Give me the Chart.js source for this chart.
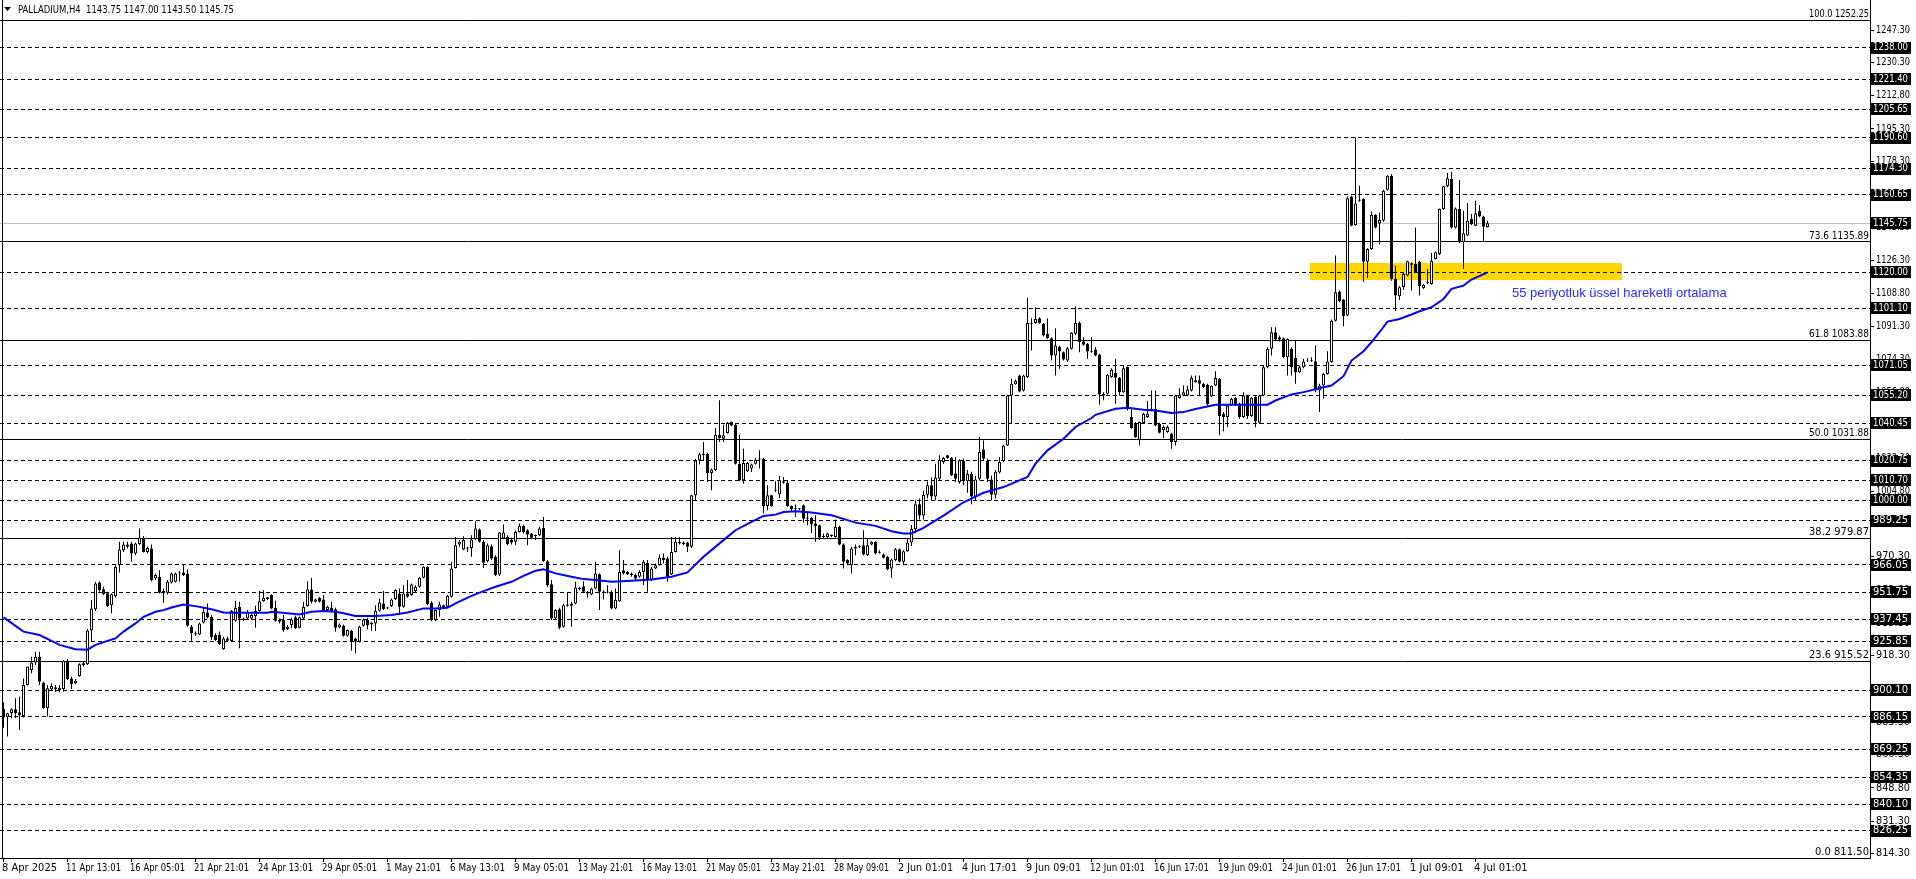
<!DOCTYPE html>
<html><head><meta charset="utf-8">
<script src="https://cdn.jsdelivr.net/npm/chart.js@4.4.0/dist/chart.umd.min.js"></script>
<style>html,body{margin:0;padding:0;background:#fff;overflow:hidden}#wrap{position:relative;width:1916px;height:879px}</style>
</head><body><div id="wrap"><canvas id="c" width="1916" height="879"></canvas></div>
<script>
const headerText = 'PALLADIUM,H4  1143.75 1147.00 1143.50 1145.75';
const annotationText = '55 periyotluk üssel hareketli ortalama';

const opens = [890.3,886.0,888.2,890.2,888.6,886.6,902.9,910.8,914.7,917.8,904.2,890.7,900.7,900.7,900.3,900.8,915.7,906.4,903.8,907.7,913.4,913.8,931.6,942.8,956.8,953.3,951.2,944.9,949.7,966.0,973.8,975.6,977.3,972.1,977.0,980.5,972.9,974.7,958.9,959.8,952.3,951.4,956.8,957.2,961.6,962.1,961.6,933.6,930.1,929.5,935.8,941.1,938.8,929.2,929.5,921.8,926.2,926.1,936.7,944.1,937.9,937.9,937.9,939.2,941.8,947.0,948.1,950.2,943.5,937.1,937.1,932.4,934.5,938.5,933.0,
937.9,944.4,953.2,946.7,948.8,947.9,942.3,943.5,942.8,933.2,934.1,928.8,931.5,927.4,925.7,934.1,937.4,934.8,935.3,942.0,945.8,943.2,944.4,948.1,951.1,944.1,951.1,950.2,952.3,954.6,959.3,965.1,946.3,937.1,942.3,944.9,944.1,949.3,964.5,976.8,974.2,974.7,975.0,979.6,984.7,978.2,968.0,975.9,970.3,961.0,979.9,980.8,979.4,978.2,983.4,986.6,984.3,982.6,981.7,981.7,985.5,968.0,955.9,937.9,942.8,933.6,944.6,944.6,945.8,953.3,954.9,951.9,950.5,953.7,961.2,951.9,951.6,
951.9,943.2,947.0,963.3,962.4,961.6,960.7,959.8,962.4,967.2,958.1,964.2,965.9,969.8,969.4,961.0,972.9,977.3,977.8,977.8,975.6,1002.7,1021.0,1023.7,1024.5,1014.4,1015.8,1034.5,1032.4,1035.4,1041.2,1039.8,1019.3,1010.6,1015.3,1016.7,1019.3,1021.9,1021.9,997.1,1002.7,1005.0,1003.2,1009.2,1009.3,997.1,995.3,995.7,997.4,990.8,990.8,987.8,986.9,981.3,980.8,981.7,980.8,986.1,976.8,968.6,965.9,974.7,975.6,976.4,971.2,976.8,978.2,972.9,971.5,970.3,964.2,968.6,974.3,967.7,973.3,
977.8,985.0,998.0,992.0,1003.0,1008.0,1002.0,1011.4,1020.2,1023.7,1022.3,1014.1,1009.7,1021.0,1010.0,1014.0,1002.0,1011.4,1026.8,1020.7,1011.0,1003.0,1014.6,1020.7,1028.9,1055.2,1061.1,1065.7,1057.8,1064.8,1092.8,1093.3,1095.8,1092.8,1087.6,1085.3,1076.2,1080.6,1077.9,1073.6,1079.7,1087.6,1093.2,1083.5,1082.3,1078.3,1079.3,1076.7,1056.1,1056.1,1064.8,1067.1,1064.5,1056.9,1070.1,1043.8,1040.3,1031.9,1040.7,1043.8,1047.3,1048.2,1040.3,1036.8,1035.9,1035.1,1030.7,1053.8,1055.2,1055.2,1057.8,1062.2,1063.1,1061.3,1060.8,
1054.6,1060.4,1063.9,1045.5,1043.8,1049.9,1053.8,1050.8,1043.8,1055.2,1044.3,1054.3,1040.8,1055.2,1070.0,1079.7,1088.4,1085.8,1085.3,1075.3,1079.7,1075.0,1067.4,1070.0,1073.0,1073.5,1073.2,1057.8,1060.4,1066.5,1072.7,1094.5,1109.8,1105.6,1097.2,1159.8,1144.8,1157.5,1158.4,1125.5,1132.2,1150.0,1145.6,1147.1,1163.3,1170.7,1116.4,1107.3,1112.0,1118.2,1123.9,1124.3,1125.5,1111.5,1114.2,1113.8,1126.9,1129.5,1153.2,1165.1,1168.9,1143.5,1153.2,1135.7,1139.2,1147.9,1144.4,1152.3,1149.3,1143.75];
const highs = [893.8,888.4,890.7,895.9,896.8,906.4,912.6,917.8,920.4,920.4,904.7,902.9,903.8,902.9,902.9,916.1,916.6,907.3,906.1,914.3,915.2,932.3,947.6,957.2,957.5,954.6,951.9,951.1,965.9,978.2,978.2,978.2,978.2,977.8,985.2,981.3,975.6,976.8,961.6,963.3,953.7,958.1,962.1,962.1,962.8,966.3,963.8,934.5,931.0,935.8,944.1,945.8,939.7,930.1,931.0,928.3,928.3,942.3,947.2,946.7,938.3,942.3,940.6,944.6,952.3,952.8,949.3,950.6,947.2,937.9,939.7,934.5,938.3,939.4,939.0,
946.7,957.5,959.3,948.4,949.3,950.2,944.6,946.7,943.5,935.3,934.8,932.3,931.8,927.8,934.1,937.9,938.3,936.2,944.9,948.4,952.3,944.1,948.4,953.3,953.7,955.4,958.1,956.3,955.4,959.8,965.4,965.4,947.0,942.8,946.7,945.3,950.2,967.7,980.8,979.1,981.2,975.6,981.7,989.0,985.2,979.1,977.3,976.8,971.2,983.4,987.3,981.7,980.3,984.1,987.8,987.3,984.8,982.9,982.0,986.1,991.3,968.6,958.1,942.8,943.5,945.8,951.6,946.7,957.2,954.6,957.5,952.3,954.0,967.7,961.6,952.8,955.4,
952.8,953.7,973.8,968.6,962.8,962.1,961.6,963.3,968.6,968.6,965.1,966.8,971.5,972.1,970.3,980.8,980.8,980.8,978.5,978.2,1003.0,1021.9,1025.1,1030.7,1025.1,1016.7,1038.0,1052.6,1039.8,1041.2,1041.5,1040.3,1034.5,1027.2,1020.2,1019.3,1022.3,1026.3,1022.3,1007.9,1003.0,1010.0,1012.8,1012.3,1010.6,997.4,997.8,996.0,997.8,993.9,991.3,992.2,987.3,982.6,983.1,982.0,989.9,986.6,977.3,969.1,975.6,976.8,976.4,984.3,979.9,978.5,978.5,973.8,972.1,970.8,969.4,975.0,974.7,973.8,979.9,
987.0,1000.0,1001.0,1005.0,1010.0,1012.0,1019.3,1023.7,1022.8,1024.0,1022.8,1022.8,1021.6,1022.0,1016.0,1015.0,1013.0,1033.3,1031.5,1021.9,1013.0,1016.0,1022.8,1029.3,1055.5,1063.9,1063.6,1066.0,1066.0,1106.5,1095.8,1101.6,1096.3,1093.3,1095.8,1085.8,1090.5,1081.4,1078.3,1080.6,1088.4,1102.1,1094.0,1085.8,1082.8,1085.8,1080.6,1077.1,1056.9,1066.5,1069.5,1074.4,1064.8,1070.9,1070.4,1048.2,1041.2,1041.5,1046.1,1052.2,1057.8,1057.8,1040.8,1039.4,1039.4,1035.6,1055.5,1059.0,1060.4,1060.4,1065.7,1065.7,1065.7,1061.8,1061.3,
1060.4,1067.9,1064.3,1046.4,1050.3,1053.9,1054.3,1051.3,1056.9,1055.5,1054.3,1054.8,1055.5,1070.6,1080.5,1091.0,1091.0,1086.7,1085.8,1085.3,1080.5,1084.0,1070.9,1074.4,1074.8,1075.3,1081.4,1061.3,1067.1,1078.4,1095.1,1128.7,1110.3,1105.9,1159.8,1160.2,1190.8,1165.4,1158.8,1132.5,1151.9,1150.5,1151.4,1163.3,1171.0,1171.5,1123.4,1112.6,1119.6,1126.0,1125.2,1143.5,1126.0,1113.8,1121.7,1130.1,1130.8,1153.5,1165.4,1172.1,1172.8,1154.0,1168.4,1152.3,1156.3,1150.5,1157.5,1155.3,1149.6,1147.00];
const lows = [880.5,875.8,885.4,885.4,879.3,885.8,902.6,909.1,913.4,902.9,890.4,886.3,900.3,899.4,899.1,899.4,905.6,900.8,903.3,907.3,912.6,913.4,926.1,941.8,951.9,950.2,944.1,940.6,948.8,962.1,972.9,974.7,967.7,971.2,976.4,972.6,972.1,957.5,958.1,951.1,946.2,950.5,956.3,956.8,957.2,960.3,933.6,926.2,928.8,929.2,935.3,937.9,926.6,926.1,924.0,921.3,925.7,925.7,936.2,922.2,936.6,937.6,937.1,933.0,941.4,946.7,947.6,942.8,936.2,935.3,930.9,931.8,932.7,932.4,932.7,
937.1,944.1,945.8,946.3,946.3,941.8,941.8,941.1,930.9,932.7,928.3,928.3,921.0,919.6,925.3,933.6,932.3,931.3,931.3,941.4,942.3,942.7,943.9,947.6,939.7,943.5,948.8,949.8,951.6,954.0,958.9,944.9,936.5,936.5,938.8,942.8,943.5,948.8,964.2,975.6,973.8,972.9,970.3,979.1,977.8,964.5,967.3,968.6,960.3,960.3,979.6,976.4,976.8,976.4,983.1,982.6,976.4,979.9,979.1,981.3,967.7,954.6,937.1,937.1,932.3,933.0,944.1,933.6,945.3,952.8,951.6,948.8,950.2,953.3,942.3,947.9,951.1,
942.8,942.8,946.7,961.0,960.7,959.8,958.1,959.3,955.4,951.9,957.5,963.8,965.6,966.8,957.2,960.7,972.6,976.8,976.4,972.9,975.0,1000.1,1018.8,1021.0,1009.7,1005.3,1015.3,1030.7,1030.7,1035.1,1039.1,1018.8,1010.0,1008.8,1014.9,1014.9,1018.8,1016.7,993.1,994.8,996.6,1004.4,1001.3,1008.8,996.6,994.3,991.3,994.8,988.2,986.9,982.9,978.2,979.1,979.9,980.3,980.8,980.3,976.4,964.2,965.9,961.6,971.2,975.0,971.2,970.8,976.4,971.5,972.1,969.4,963.3,959.3,968.0,967.3,965.9,972.9,
976.0,983.0,990.0,990.0,1001.0,1000.0,1000.0,1010.6,1019.3,1021.9,1012.8,1009.7,1008.8,1008.0,1004.0,998.0,1000.0,1010.6,1021.0,1009.7,1000.0,1001.0,1014.1,1020.2,1028.6,1040.7,1060.8,1056.9,1057.3,1064.3,1078.8,1092.8,1092.8,1086.2,1084.9,1073.6,1065.7,1069.2,1073.6,1072.7,1079.3,1087.0,1077.9,1081.4,1074.4,1077.6,1075.8,1050.3,1052.6,1055.5,1064.3,1050.8,1055.2,1056.6,1047.3,1037.7,1032.8,1028.9,1040.3,1043.3,1046.8,1039.1,1035.1,1032.8,1035.6,1027.2,1028.9,1053.4,1054.8,1054.8,1057.3,1061.8,1055.2,1059.1,1049.9,
1054.3,1060.1,1034.2,1036.3,1038.5,1049.6,1049.9,1042.9,1043.3,1042.9,1043.8,1038.5,1040.3,1054.8,1069.5,1076.2,1084.0,1083.5,1074.8,1065.7,1065.7,1061.3,1067.0,1069.5,1072.7,1072.7,1056.9,1046.4,1053.4,1066.0,1072.3,1094.0,1104.2,1091.6,1096.8,1144.1,1144.4,1157.0,1115.0,1116.9,1131.8,1143.0,1134.5,1146.5,1162.8,1115.5,1099.5,1105.4,1110.6,1117.8,1110.3,1119.6,1107.7,1111.2,1113.8,1113.3,1126.6,1129.0,1152.8,1164.6,1143.0,1143.0,1135.3,1121.7,1138.8,1144.8,1144.1,1148.8,1135.7,1143.50];
const closes = [885.8,888.1,890.2,888.1,887.0,902.9,912.6,914.7,917.8,904.7,890.7,901.2,902.4,901.7,901.5,915.7,905.9,903.3,905.2,913.8,914.3,931.6,943.2,956.3,952.8,950.7,944.4,950.7,965.1,974.2,976.8,976.8,972.1,977.3,980.5,972.9,975.0,958.1,960.7,951.4,951.1,957.2,961.6,961.6,962.1,960.7,934.1,930.1,929.5,935.3,941.4,938.5,927.9,926.6,924.5,927.4,927.4,941.8,943.5,937.9,937.1,941.4,939.7,941.8,947.0,948.8,949.0,943.2,936.7,936.2,931.8,933.6,937.4,932.7,938.6,
944.1,953.3,946.7,947.9,946.7,942.3,944.1,941.4,933.0,934.8,928.8,931.8,926.0,925.7,933.6,937.4,934.4,935.7,942.0,946.3,942.8,943.5,947.9,952.9,944.1,951.1,949.3,955.8,954.6,959.3,965.1,945.5,937.1,942.3,945.3,943.2,949.8,964.2,976.4,978.2,979.1,975.2,979.4,985.2,978.2,967.2,976.4,969.4,960.7,983.1,983.1,977.0,977.8,983.4,986.6,983.4,982.0,980.3,981.3,985.2,968.0,955.4,937.9,942.3,933.0,944.9,945.3,945.8,954.2,954.0,951.9,951.1,953.7,961.6,951.9,951.6,951.9,
943.2,947.6,962.4,961.6,961.0,960.7,958.9,962.4,967.7,958.1,964.2,965.9,969.8,968.6,959.8,972.9,978.2,978.2,977.1,975.6,1002.7,1021.0,1024.2,1024.5,1014.4,1016.2,1034.5,1032.8,1034.2,1040.7,1039.4,1019.3,1010.6,1019.6,1019.6,1018.8,1021.4,1021.5,997.1,1002.7,997.1,1005.3,1010.6,1010.0,996.9,995.3,995.7,995.3,990.4,990.4,987.5,986.4,980.3,980.8,982.6,981.3,986.1,976.8,967.7,966.8,974.7,975.6,975.7,971.5,976.4,978.2,972.1,972.4,969.8,963.8,968.9,974.3,967.7,973.3,977.8,
985.0,998.0,992.0,1003.0,1008.0,1002.0,1012.0,1021.1,1022.3,1022.3,1013.2,1011.4,1021.1,1010.0,1014.0,1002.0,1011.0,1025.4,1021.9,1011.4,1003.0,1015.0,1020.2,1028.9,1055.2,1061.3,1062.9,1057.3,1065.7,1093.2,1093.2,1095.4,1093.2,1086.7,1085.3,1076.2,1081.4,1078.3,1074.1,1080.0,1088.1,1093.2,1083.2,1081.8,1078.3,1077.9,1076.2,1055.7,1055.2,1066.0,1068.7,1064.5,1056.9,1069.5,1048.2,1038.0,1033.3,1041.2,1045.6,1045.6,1048.2,1039.4,1035.6,1038.6,1038.6,1030.7,1055.2,1055.5,1056.9,1058.3,1064.5,1063.1,1061.3,1059.6,1050.5,
1060.1,1064.3,1044.3,1043.8,1049.9,1053.4,1050.3,1043.8,1055.2,1044.3,1053.9,1041.5,1055.2,1070.0,1079.7,1088.4,1084.6,1084.6,1075.3,1084.9,1070.0,1067.4,1070.0,1073.0,1073.5,1073.2,1057.8,1060.4,1066.5,1073.0,1094.5,1109.4,1104.7,1096.8,1158.8,1144.4,1156.1,1158.1,1125.5,1132.2,1150.0,1143.5,1147.4,1162.8,1170.7,1116.4,1107.7,1112.0,1119.0,1125.7,1124.7,1119.9,1112.6,1113.3,1114.7,1126.0,1130.4,1153.2,1165.1,1169.3,1143.5,1153.5,1135.7,1140.4,1147.0,1145.3,1150.9,1149.3,1143.9,1145.75];

const emaBars = [0,5,9,12,14,18,21,23,26,28,30,33,35,38,40,42,45,48,52,55,57,66,67,71,74,77,80,83,85,88,93,97,101,105,108,111,113,117,120,123,127,130,133,135,138,142,145,148,152,157,162,167,171,175,180,183,187,190,193,195,198,202,207,211,213,218,222,225,227,230,235,240,245,250,256,258,261,265,268,272,273,278,281,285,288,292,295,298,303,316,318,322,325,330,332,335,337,340,342,344,346,349,352,354,357,360,362,365,367,371];
const emaValues = [938.5,931.0,929.2,926.1,924.0,921.7,921.5,924.0,926.1,927.4,931.0,935.3,938.8,941.4,942.3,943.7,945.3,944.4,942.8,941.1,940.9,940.9,941.4,940.6,940.0,941.4,941.8,941.4,940.6,939.2,939.2,939.7,941.1,943.2,943.2,943.5,945.8,949.8,952.3,954.6,957.2,960.3,963.0,963.8,961.6,959.8,958.6,958.1,957.2,957.7,958.4,959.8,962.1,970.3,979.1,984.3,988.7,991.8,992.5,993.9,994.3,993.6,992.2,989.6,988.3,986.6,983.8,982.6,982.6,985.5,992.0,999.0,1004.0,1007.0,1012.3,1019.3,1026.3,1032.4,1038.6,1043.3,1045.0,1048.2,1048.7,1047.7,1047.3,1045.9,1046.4,1048.0,1050.3,1050.3,1052.5,1055.7,1056.9,1059.5,1060.4,1065.3,1073.5,1078.4,1083.2,1088.4,1094.0,1095.4,1097.7,1099.4,1101.5,1105.9,1111.2,1112.9,1116.1,1119.9];

const timeLabelBars = [0,16,32,48,64,80,96,112,128,144,160,176,192,208,224,240,256,272,288,304,320,336,352,368];
const timeLabelTexts = ['8 Apr 2025','11 Apr 13:01','16 Apr 05:01','21 Apr 21:01','24 Apr 13:01','29 Apr 05:01','1 May 21:01','6 May 13:01','9 May 05:01','13 May 21:01','16 May 13:01','21 May 05:01','23 May 21:01','28 May 09:01','2 Jun 01:01','4 Jun 17:01','9 Jun 09:01','12 Jun 01:01','16 Jun 17:01','19 Jun 09:01','24 Jun 01:01','26 Jun 17:01','1 Jul 09:01','4 Jul 01:01'];

const priceTicks = [1247.30,1230.30,1212.80,1195.30,1178.30,1160.80,1143.30,1126.30,1108.80,1091.30,1074.30,1056.80,1039.30,1022.30,1004.80,987.30,970.30,952.80,935.30,918.30,900.80,883.30,866.30,848.80,831.30,814.30];
const levelPrices = [1238.00,1221.40,1205.65,1190.60,1174.30,1160.65,1120.00,1101.10,1071.05,1055.20,1040.45,1020.75,1010.70,1000.00,989.25,966.05,951.75,937.45,925.85,900.10,886.15,869.25,854.35,840.10,826.25];
const fibRatios = ['100.0','73.6','61.8','50.0','38.2','23.6','0.0'];
const fibPrices = [1252.25,1135.89,1083.88,1031.88,979.87,915.52,811.50];
const bidPrice = 1145.75;
const zoneTop = 1124.9, zoneBottom = 1116.0, zoneStartBar = 327, zoneEndBar = 404;
const totalSlots = 467;

const labels = Array.from({length: totalSlots}, (_, i) => String(i));
const n = opens.length;
const bodies = labels.map((_, i) => i < n ? [opens[i], closes[i]] : null);
const wicks = labels.map((_, i) => i < n ? [lows[i], highs[i]] : null);
const bodyColors = labels.map((_, i) => i < n && closes[i] >= opens[i] ? '#ffffff' : '#000000');
const emaSeries = labels.map(() => null);
emaBars.forEach((b, k) => { emaSeries[b] = emaValues[k]; });

const AXIS_X = 1870, AXIS_Y = 858;
const FONT = '10px "DejaVu Sans", "Liberation Sans", sans-serif';
const px = v => Math.floor(v) + 0.5;

const mt4 = {
  id: 'mt4',
  beforeDatasetsDraw(chart) {
    const {ctx, scales: {x, y}} = chart;
    ctx.save();
    ctx.fillStyle = '#FFD700';
    const zx0 = Math.round(x.getPixelForValue(zoneStartBar) - 2);
    const zx1 = Math.round(x.getPixelForValue(zoneEndBar) + 2);
    const zy0 = Math.round(y.getPixelForValue(zoneTop)), zy1 = Math.round(y.getPixelForValue(zoneBottom));
    ctx.fillRect(zx0, zy0, zx1 - zx0, zy1 - zy0);
    ctx.lineWidth = 1;
    ctx.strokeStyle = '#c0c0c0';
    let yy = px(y.getPixelForValue(bidPrice));
    ctx.beginPath(); ctx.moveTo(0, yy); ctx.lineTo(AXIS_X, yy); ctx.stroke();
    ctx.strokeStyle = '#000';
    fibPrices.forEach(p => {
      const t = Math.min(px(y.getPixelForValue(p)), AXIS_Y + 0.5);
      ctx.beginPath(); ctx.moveTo(0, t); ctx.lineTo(AXIS_X, t); ctx.stroke();
    });
    ctx.setLineDash([4, 3]);
    levelPrices.forEach(p => {
      const t = px(y.getPixelForValue(p));
      ctx.beginPath(); ctx.moveTo(0, t); ctx.lineTo(AXIS_X, t); ctx.stroke();
    });
    ctx.restore();
  },
  afterDatasetsDraw(chart) {
    const {ctx, scales: {x, y}} = chart;
    ctx.save();
    ctx.fillStyle = '#fff';
    ctx.fillRect(AXIS_X + 1, 0, 1916 - AXIS_X, 879);
    ctx.fillRect(0, AXIS_Y + 1, 1916, 879 - AXIS_Y);
    ctx.strokeStyle = '#000'; ctx.lineWidth = 1;
    ctx.beginPath();
    ctx.moveTo(AXIS_X + 0.5, 0); ctx.lineTo(AXIS_X + 0.5, AXIS_Y + 0.5);
    ctx.moveTo(0, AXIS_Y + 0.5); ctx.lineTo(AXIS_X + 0.5, AXIS_Y + 0.5);
    ctx.moveTo(2.5, 0); ctx.lineTo(2.5, AXIS_Y);
    ctx.stroke();
    ctx.font = FONT;
    ctx.textBaseline = 'middle';
    ctx.fillStyle = '#000';
    priceTicks.forEach(p => {
      const t = y.getPixelForValue(p);
      ctx.beginPath(); ctx.moveTo(AXIS_X, px(t)); ctx.lineTo(AXIS_X + 4, px(t)); ctx.stroke();
      ctx.textAlign = 'left';
      ctx.fillText(p.toFixed(2), AXIS_X + 6, t, 34);
    });
    const boxes = levelPrices.concat([bidPrice]);
    boxes.forEach(p => {
      const t = y.getPixelForValue(p);
      ctx.fillStyle = '#000';
      ctx.fillRect(AXIS_X + 1, Math.round(t) - 6, 40, 12);
      ctx.fillStyle = '#fff';
      ctx.textAlign = 'left';
      ctx.fillText(p.toFixed(2), AXIS_X + 3, t, 35);
    });
    ctx.fillStyle = '#000';
    ctx.textAlign = 'right';
    ctx.textBaseline = 'bottom';
    fibPrices.forEach((p, k) => {
      const t = Math.min(y.getPixelForValue(p), AXIS_Y);
      ctx.fillText(fibRatios[k] + ' ' + p.toFixed(2), AXIS_X - 1, t - 1, 60);
    });
    ctx.textAlign = 'left';
    ctx.textBaseline = 'middle';
    timeLabelBars.forEach((b, k) => {
      const tx = Math.round(x.getPixelForValue(b));
      ctx.beginPath(); ctx.moveTo(tx - 0.5, AXIS_Y); ctx.lineTo(tx - 0.5, AXIS_Y + 4); ctx.stroke();
      ctx.fillText(timeLabelTexts[k], tx - 2, 868, 55);
    });
    ctx.fillStyle = '#000';
    ctx.beginPath(); ctx.moveTo(4, 7); ctx.lineTo(11, 7); ctx.lineTo(7.5, 11); ctx.closePath(); ctx.fill();
    ctx.fillText(headerText, 18, 10, 216);
    ctx.fillStyle = '#2a2aff';
    ctx.font = '13px "Liberation Sans", Arial, sans-serif';
    ctx.fillText(annotationText, 1512, 293, 216);
    ctx.restore();
  }
};

new Chart(document.getElementById('c'), {
  type: 'bar',
  data: {
    labels: labels,
    datasets: [
      {type: 'line', data: emaSeries, borderColor: '#0000ff', borderWidth: 2, pointRadius: 0, spanGaps: true, tension: 0, order: 0},
      {type: 'bar', data: bodies, backgroundColor: bodyColors, borderColor: '#000', borderWidth: 1, borderSkipped: false, barThickness: 3, grouped: false, minBarLength: 1, inflateAmount: 0, order: 1},
      {type: 'bar', data: wicks, backgroundColor: '#000', borderWidth: 0, barThickness: 1, grouped: false, inflateAmount: 0, order: 2}
    ]
  },
  options: {
    responsive: false, animation: false, events: [], devicePixelRatio: 1,
    layout: {padding: {left: 1.5, right: 46.5, top: 1, bottom: 879 - AXIS_Y}},
    plugins: {legend: {display: false}, tooltip: {enabled: false}},
    scales: {
      x: {display: false, offset: true},
      y: {display: false, min: 811.97, max: 1262.55}
    }
  },
  plugins: [mt4]
});
</script></body></html>
